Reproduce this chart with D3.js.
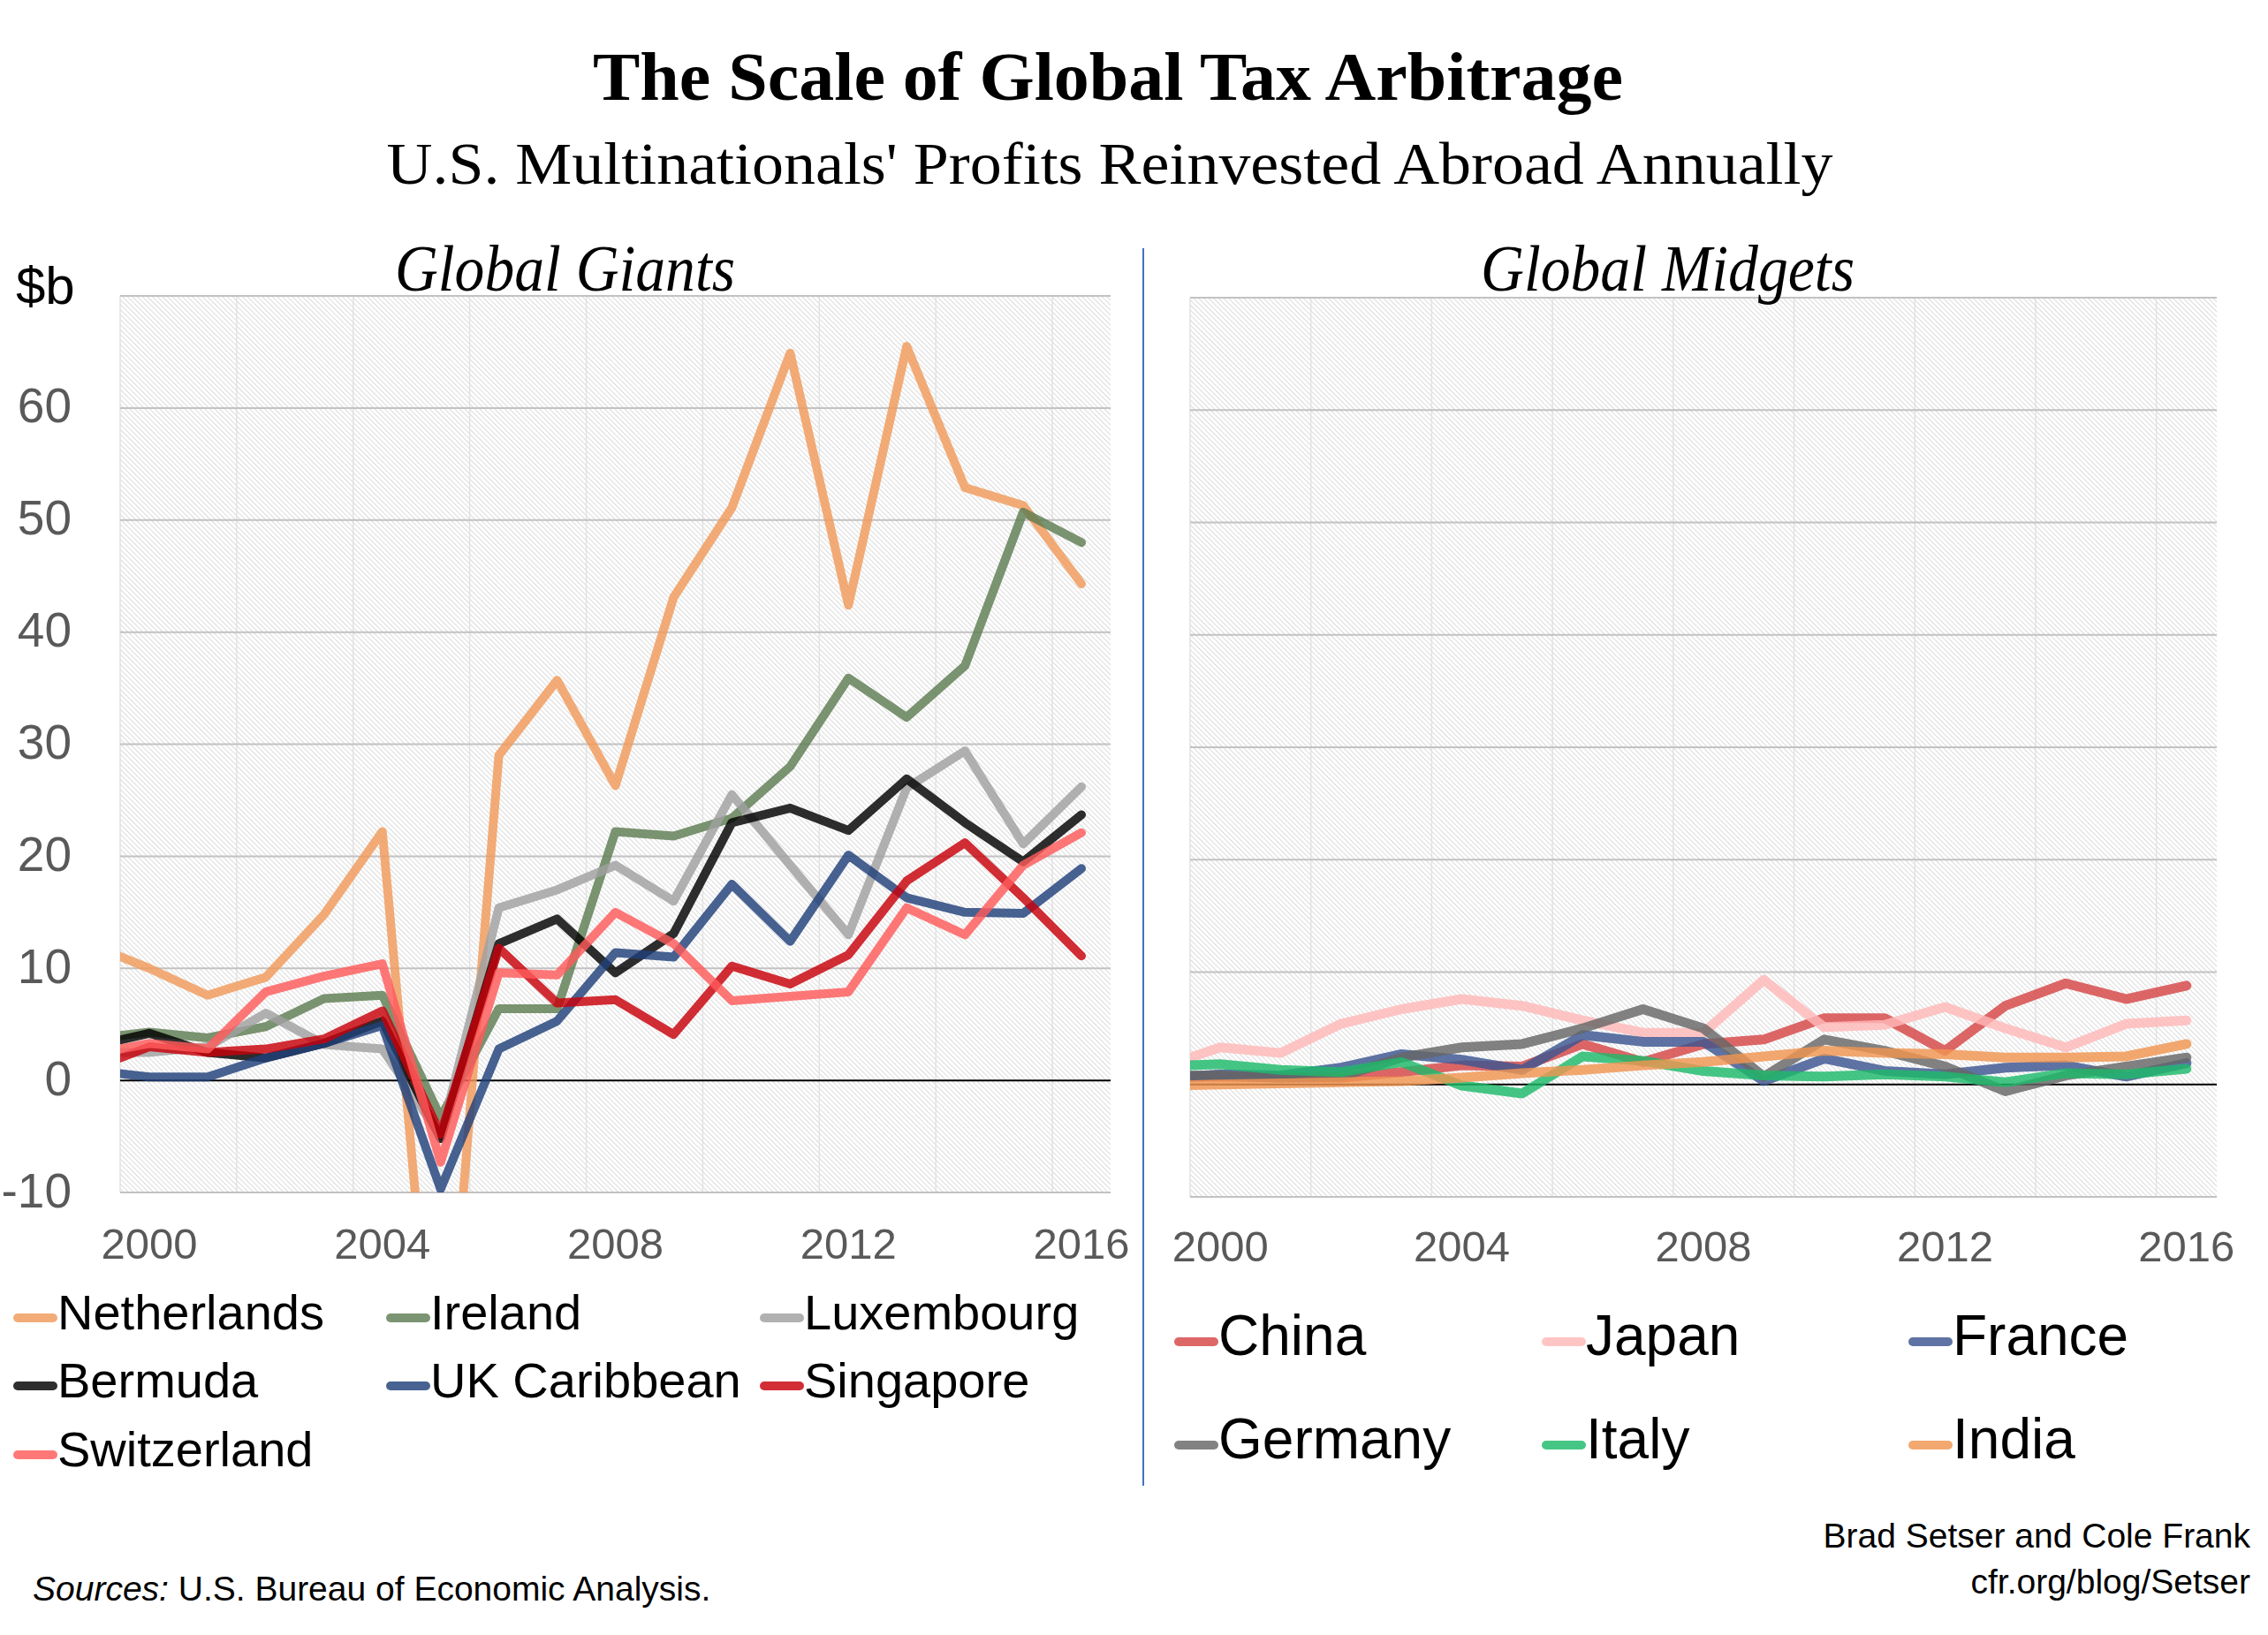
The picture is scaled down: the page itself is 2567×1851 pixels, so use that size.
<!DOCTYPE html>
<html>
<head>
<meta charset="utf-8">
<script src="https://cdn.jsdelivr.net/npm/d3@7"></script>
<style>
body { margin:0; background:#fff; }
svg { display:block; }
</style>
</head>
<body>
<div id="chart"></div>
<script>
// years 1999-2016, 1999 sits just left of the plot edge and gets clipped
var years = [1999,2000,2001,2002,2003,2004,2005,2006,2007,2008,2009,2010,2011,2012,2013,2014,2015,2016];
var xTicks = [2000,2004,2008,2012,2016];
var yTicks = [-10,0,10,20,30,40,50,60,70];
var yLabels = ["-10","0","10","20","30","40","50","60",""];

// Global Giants ($b)
var giantNames = ["Netherlands","Ireland","Luxembourg","Bermuda","UK Caribbean","Singapore","Switzerland"];
var netherlands = [12.1,10.0,7.6,9.2,14.8,22.2,-35.0,29.0,35.7,26.3,43.1,51.1,64.9,42.4,65.5,52.9,51.3,44.3];
var ireland     = [3.7,4.3,3.8,4.8,7.3,7.6,-3.3,6.4,6.4,22.2,21.8,23.4,28.0,35.9,32.4,37.0,50.7,48.0];
var luxembourg  = [2.5,2.5,3.0,6.0,3.2,2.8,-5.0,15.4,17.0,19.2,16.0,25.5,19.2,13.0,26.1,29.4,21.1,26.2];
var bermuda     = [3.0,4.2,2.5,2.0,3.3,5.3,-5.2,12.2,14.4,9.6,13.1,23.0,24.3,22.3,26.9,23.0,19.5,23.7];
var ukCaribbean = [0.9,0.3,0.3,2.0,3.3,4.9,-9.7,2.8,5.3,11.4,11.0,17.5,12.4,20.1,16.3,15.0,14.9,18.9];
var singapore   = [1.0,3.0,2.5,2.8,3.7,6.2,-4.8,11.8,6.9,7.2,4.1,10.2,8.6,11.2,17.8,21.2,16.3,11.1];
var switzerland = [2.3,3.3,2.8,7.9,9.3,10.4,-7.3,9.6,9.4,15.0,12.2,7.1,7.5,7.9,15.4,13.0,19.2,22.1];
var giantColors = ["#f09a5a","#5e7d52","#a0a0a0","#000000","#203f7a","#c8000a","#ff5a5a"];

// Global Midgets ($b)
var midgetNames = ["China","Japan","France","Germany","Italy","India"];
var china   = [0.6,0.7,0.6,0.6,1.1,1.7,1.6,3.6,2.0,3.6,4.0,5.9,5.9,3.0,7.0,9.0,7.6,8.8];
var japan   = [1.5,3.3,2.8,5.4,6.7,7.6,7.0,5.7,4.6,4.6,9.3,5.1,5.3,6.9,5.0,3.3,5.4,5.7];
var france  = [0.5,0.9,0.8,1.5,2.7,2.2,1.3,4.4,3.8,3.8,0.3,2.3,1.2,0.9,1.5,1.7,0.7,1.9];
var germany = [0.8,0.8,0.6,0.7,2.4,3.3,3.6,5.0,6.7,5.0,0.7,4.0,3.0,1.6,-0.6,0.8,1.6,2.4];
var italy   = [1.6,1.8,1.3,1.1,2.0,-0.1,-0.8,2.5,2.1,1.2,0.8,0.7,0.9,0.7,0.2,1.0,0.9,1.4];
var india   = [-0.1,0.0,0.1,0.2,0.3,0.6,1.0,1.3,1.7,2.0,2.5,3.0,2.8,2.7,2.4,2.4,2.5,3.6];
var midgetColors = ["#d64545","#ffb8b8","#3c5690","#666666","#1db96a","#f09550"];

var giants = [netherlands,ireland,luxembourg,bermuda,ukCaribbean,singapore,switzerland];
var midgets = [china,japan,france,germany,italy,india];

var width = 2567, height = 1851;
var sans = "'Liberation Sans', Arial, sans-serif";
var serif = "'Liberation Serif', 'Times New Roman', serif";

var svg = d3.select("#chart")
	.append("svg")
	.attr("width", width)
	.attr("height", height);

var defs = svg.append("defs");
var hatch = defs.append("pattern")
	.attr("id","hatch")
	.attr("width",4)
	.attr("height",4)
	.attr("patternUnits","userSpaceOnUse")
	.attr("patternTransform","rotate(-45)");
hatch.append("rect").attr("width",4).attr("height",4).attr("fill","#ffffff");
hatch.append("line")
	.attr("x1",0).attr("y1",0).attr("x2",0).attr("y2",4)
	.attr("stroke","#d2d2d2")
	.attr("stroke-width",1.6);

// titles
svg.append("text")
	.text("The Scale of Global Tax Arbitrage")
	.attr("x",1254).attr("y",113)
	.attr("text-anchor","middle")
	.attr("textLength",1166)
	.attr("lengthAdjust","spacingAndGlyphs")
	.style("font-family",serif)
	.style("font-weight","bold")
	.style("font-size","78px")
	.attr("fill","#000");

svg.append("text")
	.text("U.S. Multinationals' Profits Reinvested Abroad Annually")
	.attr("x",1256).attr("y",208)
	.attr("text-anchor","middle")
	.attr("textLength",1637)
	.attr("lengthAdjust","spacingAndGlyphs")
	.style("font-family",serif)
	.style("font-size","68px")
	.attr("fill","#000");

svg.append("text")
	.text("$b")
	.attr("x",18).attr("y",344)
	.style("font-family",sans)
	.style("font-size","60px")
	.attr("fill","#000");

// divider between panels
svg.append("line")
	.attr("x1",1294).attr("x2",1294)
	.attr("y1",281).attr("y2",1682)
	.attr("stroke","#4472c4")
	.attr("stroke-width",2);

function renderPanel(opt) {
	var x = d3.scaleLinear().domain([years[0]+0.5, years[years.length-1]+0.5]).range([opt.left, opt.right]);
	var y = d3.scaleLinear().domain([yTicks[0], yTicks[yTicks.length-1]]).range([opt.bottom, opt.top]);
	var g = svg.append("g").attr("class","panel");

	defs.append("clipPath")
		.attr("id",opt.id+"-clip")
		.append("rect")
		.attr("x",opt.left).attr("y",opt.top)
		.attr("width",opt.right-opt.left)
		.attr("height",opt.bottom-opt.top);

	g.append("rect")
		.attr("x",opt.left).attr("y",opt.top)
		.attr("width",opt.right-opt.left)
		.attr("height",opt.bottom-opt.top)
		.attr("fill","url(#hatch)");

	// faint vertical lines every second year boundary
	g.selectAll(".vgrid")
		.data(years.filter(function(d,i){ return i%2==0; }))
		.enter().append("line")
		.attr("class","vgrid")
		.attr("x1",function(d){ return x(d+0.5); })
		.attr("x2",function(d){ return x(d+0.5); })
		.attr("y1",opt.top).attr("y2",opt.bottom)
		.attr("stroke","#e2e2e2")
		.attr("stroke-width",1.5);

	g.selectAll(".hgrid")
		.data(yTicks)
		.enter().append("line")
		.attr("class","hgrid")
		.attr("x1",opt.left).attr("x2",opt.right)
		.attr("y1",function(d){ return y(d); })
		.attr("y2",function(d){ return y(d); })
		.attr("stroke",function(d){ return d==0 ? "#000000" : "#c2c2c2"; })
		.attr("stroke-width",2);

	if (opt.yLabels) {
		g.selectAll(".ylab")
			.data(yTicks)
			.enter().append("text")
			.attr("class","ylab")
			.text(function(d,i){ return yLabels[i]; })
			.attr("x",81)
			.attr("y",function(d){ return y(d); })
			.attr("dy","0.3em")
			.attr("text-anchor","end")
			.style("font-family",sans)
			.style("font-size","55px")
			.attr("fill","#595959");
	}

	g.selectAll(".xlab")
		.data(xTicks)
		.enter().append("text")
		.attr("class","xlab")
		.text(function(d){ return d; })
		.attr("x",function(d){ return x(d); })
		.attr("y",opt.xLabelY)
		.attr("text-anchor","middle")
		.style("font-family",sans)
		.style("font-size","49px")
		.attr("fill","#595959");

	var line = d3.line()
		.x(function(d,i){ return x(years[i]); })
		.y(function(d){ return y(d); });

	g.append("g")
		.attr("clip-path","url(#"+opt.id+"-clip)")
		.selectAll("path")
		.data(opt.series)
		.enter().append("path")
		.attr("d",line)
		.attr("fill","none")
		.attr("stroke",function(d,i){ return opt.colors[i]; })
		.attr("stroke-opacity",0.82)
		.attr("stroke-width",opt.lineWidth)
		.attr("stroke-linejoin","round")
		.attr("stroke-linecap","round");

	svg.append("text")
		.text(opt.title)
		.attr("x",opt.titleX).attr("y",329)
		.attr("textLength",opt.titleLen)
		.attr("lengthAdjust","spacingAndGlyphs")
		.style("font-family",serif)
		.style("font-style","italic")
		.style("font-size","74px")
		.attr("fill","#000");

	// legend
	var items = g.selectAll(".legend")
		.data(opt.names)
		.enter().append("g")
		.attr("class","legend")
		.attr("transform",function(d,i){
			return "translate("+opt.legendX[i%3]+","+opt.legendY[Math.floor(i/3)]+")";
		});
	items.append("line")
		.attr("x1",5).attr("x2",opt.swatch-5)
		.attr("y1",0).attr("y2",0)
		.attr("stroke",function(d,i){ return opt.colors[i]; })
		.attr("stroke-opacity",0.82)
		.attr("stroke-width",10)
		.attr("stroke-linecap","round");
	items.append("text")
		.text(function(d){ return d; })
		.attr("x",opt.swatch)
		.attr("y",opt.legendFont*0.23)
		.style("font-family",sans)
		.style("font-size",opt.legendFont+"px")
		.attr("fill","#000");
}

renderPanel({
	id:"giants", title:"Global Giants", titleX:447, titleLen:385,
	left:136, right:1257, top:335, bottom:1350,
	series:giants, colors:giantColors, names:giantNames,
	yLabels:true, xLabelY:1425, lineWidth:10,
	legendX:[15,437,860], legendY:[1492,1569,1647], swatch:50, legendFont:56
});

renderPanel({
	id:"midgets", title:"Global Midgets", titleX:1676, titleLen:423,
	left:1347, right:2509, top:337, bottom:1355,
	series:midgets, colors:midgetColors, names:midgetNames,
	yLabels:false, xLabelY:1428, lineWidth:11,
	legendX:[1329,1745,2160], legendY:[1519,1636], swatch:50, legendFont:64
});

// footer
var footer = svg.append("text")
	.attr("x",37).attr("y",1812)
	.style("font-family",sans)
	.style("font-size","39px")
	.attr("fill","#000");
footer.append("tspan").style("font-style","italic").text("Sources:");
footer.append("tspan").text(" U.S. Bureau of Economic Analysis.");

svg.append("text")
	.text("Brad Setser and Cole Frank")
	.attr("x",2547).attr("y",1752)
	.attr("text-anchor","end")
	.style("font-family",sans)
	.style("font-size","39px")
	.attr("fill","#000");

svg.append("text")
	.text("cfr.org/blog/Setser")
	.attr("x",2547).attr("y",1804)
	.attr("text-anchor","end")
	.style("font-family",sans)
	.style("font-size","39px")
	.attr("fill","#000");
</script>
</body>
</html>
